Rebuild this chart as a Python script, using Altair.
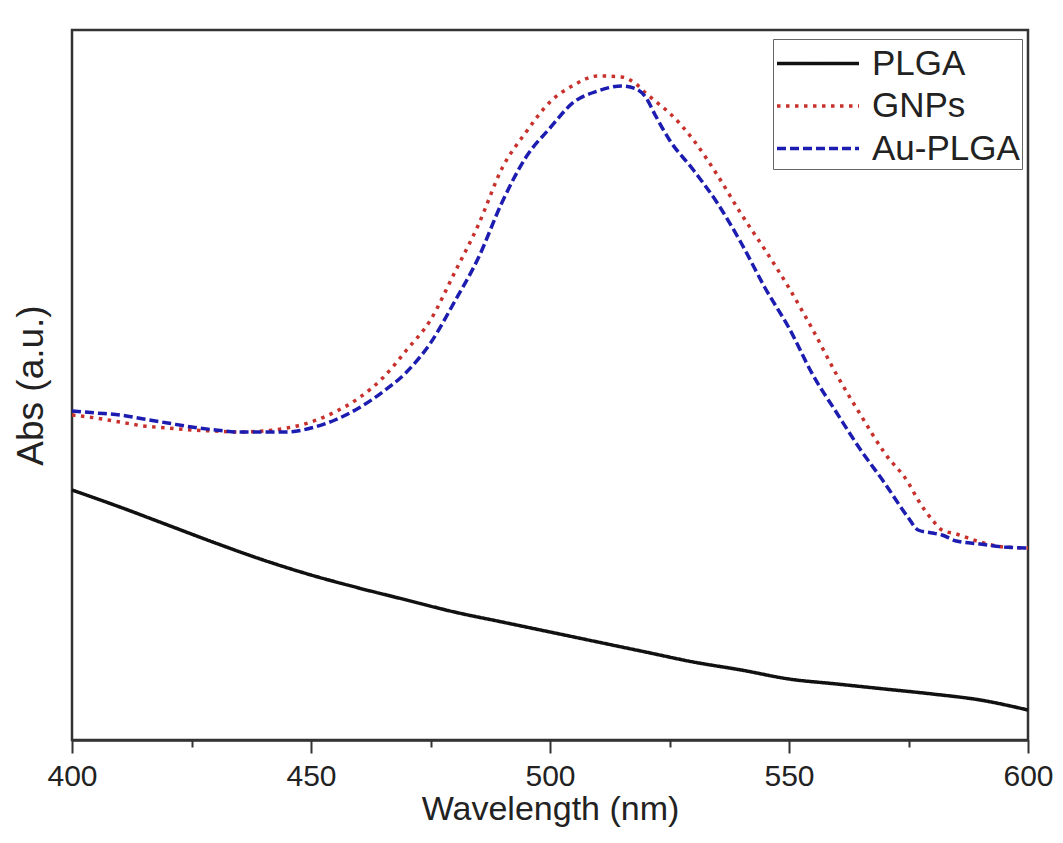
import altair as alt
import pandas as pd

# wavelength grid (nm) and absorbance (arbitrary units)
wl_dye = [400, 405, 410, 415, 420, 425, 430, 435, 440, 445, 450, 455, 460, 465,
          470, 475, 480, 485, 490, 495, 500, 505, 510, 515, 518, 520, 522, 525,
          530, 535, 540, 545, 550, 555, 560, 565, 570, 575, 577, 580, 582, 585,
          590, 595, 600]

au_plga = [329, 327, 325, 321, 317, 313, 310, 308, 308, 308, 312, 320, 332, 348,
           368, 397, 438, 482, 538, 583, 612, 638, 649, 654, 651, 643, 625, 600,
           570, 537, 497, 452, 412, 365, 327, 290, 257, 222, 210, 207, 205, 199,
           196, 193, 192]

gnps = [325, 322, 318, 314, 312, 310, 309, 308, 309, 312, 318, 328, 342, 362,
        390, 420, 467, 515, 572, 608, 638, 655, 664, 663, 656, 647, 639, 627,
        600, 565, 526, 490, 452, 410, 365, 325, 287, 257, 240, 220, 210, 206,
        198, 193, 192]

wl_plga = [400, 410, 420, 430, 440, 450, 460, 470, 480, 490, 500, 510, 520,
           530, 540, 550, 560, 570, 580, 590, 600]
plga = [250, 233, 215, 197, 180, 165, 152, 140, 128, 118, 108, 98, 88, 78,
        70, 61, 56, 51, 46, 40, 30]

series = ["PLGA", "GNPs", "Au-PLGA"]
colors = ["#111111", "#c8302c", "#1c1cb0"]
dashes = [[1, 0], [3.5, 5.5], [9, 4]]

rows = []
for w, v in zip(wl_plga, plga):
    rows.append({"wl": w, "abs": v, "s": "PLGA"})
for w, v in zip(wl_dye, gnps):
    rows.append({"wl": w, "abs": v, "s": "GNPs"})
for w, v in zip(wl_dye, au_plga):
    rows.append({"wl": w, "abs": v, "s": "Au-PLGA"})
source = pd.DataFrame(rows)

font = "Liberation Sans"

chart = alt.Chart(source).mark_line(strokeWidth=3.5, interpolate="monotone").encode(
    x=alt.X("wl:Q", title="Wavelength (nm)",
            scale=alt.Scale(domain=[400, 600], nice=False, zero=False),
            axis=alt.Axis(values=list(range(400, 601, 25)),
                          labelExpr="datum.value % 50 == 0 ? datum.label : ''",
                          tickSize={"condition": {"test": "datum.value % 50 != 0", "value": 7},
                                    "value": 13},
                          tickWidth=2, tickColor="#333", domainColor="#333",
                          domainWidth=2.5, grid=False, labelFontSize=30,
                          labelFlush=False, labelOverlap=False,
                          labelPadding=8, labelColor="#222", labelFont=font,
                          titleFont=font, titleFontSize=34, titleFontWeight="normal",
                          titleColor="#222", titlePadding=1)),
    y=alt.Y("abs:Q", title="Abs (a.u.)",
            scale=alt.Scale(domain=[0, 710], nice=False),
            axis=alt.Axis(labels=False, ticks=False, grid=False, domain=False,
                          titleFont=font, titleFontSize=37, titleFontWeight="normal",
                          titleColor="#222", titlePadding=22)),
    color=alt.Color("s:N", title=None,
                    scale=alt.Scale(domain=series, range=colors),
                    legend=alt.Legend(orient="none", legendX=701, legendY=9,
                                      symbolType="M-1,0H3", symbolSize=1681,
                                      symbolStrokeWidth=3.5, labelFontSize=35,
                                      labelFont=font, labelColor="#222",
                                      strokeColor="#666", padding=2,
                                      rowPadding=1.5, labelOffset=52)),
    strokeDash=alt.StrokeDash("s:N", title=None,
                              scale=alt.Scale(domain=series, range=dashes)),
).properties(
    width=956,
    height=710,
    autosize=alt.AutoSizeParams(type="none"),
    padding={"left": 64, "top": 22, "right": 26, "bottom": 90},
).configure_view(
    stroke="#333", strokeWidth=2.5
)

chart.save("out.html", embed_options={"renderer": "svg", "actions": False})
